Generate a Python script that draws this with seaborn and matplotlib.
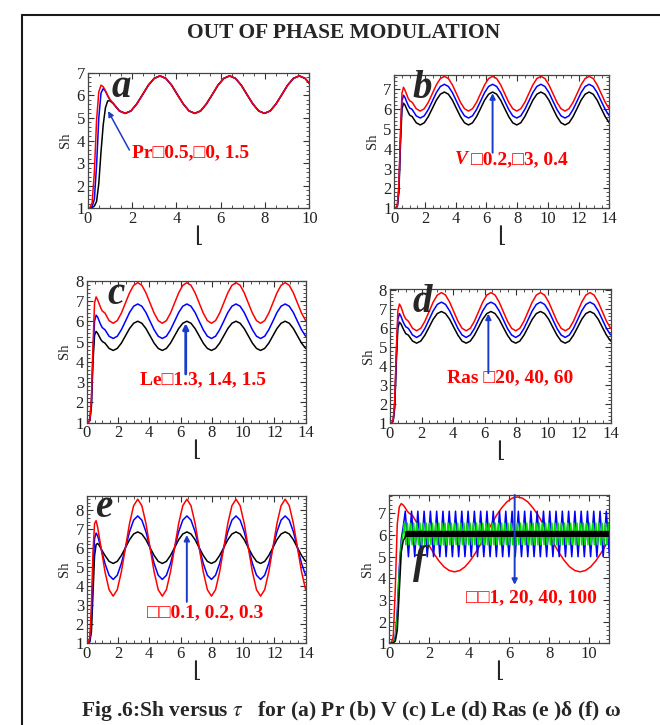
import numpy as np
import seaborn as sns
import matplotlib.pyplot as plt
from matplotlib.lines import Line2D
from matplotlib.ticker import MultipleLocator, AutoMinorLocator

# time samples: fine through the start-up, then 12 per cycle of the modulation
tau_start = [0.0, 0.1, 0.2, 0.3, 0.4, 0.5, 0.6, 0.7, 0.8, 0.9, 1.0]
tau_14 = np.concatenate([tau_start, 0.12 + np.arange(4, 54) * np.pi / 12])
tau_10 = tau_14[:46]
tau_11 = np.concatenate([tau_start, 0.12 + np.arange(4, 43) * np.pi / 12])

# steady part of the black curve (same in a, b, d, e)
steady_black = [5.62, 5.31, 5.20, 5.31, 5.62, 6.03, 6.45, 6.75, 6.86, 6.75, 6.45, 6.03,
                5.62, 5.31, 5.20, 5.31, 5.62, 6.03, 6.45, 6.75, 6.86, 6.75, 6.45, 6.03,
                5.62, 5.31, 5.20, 5.31, 5.62, 6.03, 6.45, 6.75, 6.86, 6.75, 6.45, 6.03,
                5.62, 5.31, 5.20, 5.31, 5.62, 6.03, 6.45, 6.75, 6.86, 6.75, 6.45, 6.03,
                5.62, 5.31]

# (a) Pr = 0.5, 1.0, 1.5
sh_a_red = [1.0, 1.02, 1.25, 2.6, 4.9, 6.15, 6.45, 6.38, 6.2, 6.0, 5.82] + steady_black[:35]
sh_a_blue = [1.0, 1.01, 1.08, 1.4, 2.9, 5.0, 6.1, 6.3, 6.18, 5.98, 5.8] + steady_black[:35]
sh_a_black = [1.0, 1.0, 1.03, 1.1, 1.3, 2.1, 3.5, 4.7, 5.45, 5.75, 5.76] + steady_black[:35]

# (b) V = 0.2, 0.3, 0.4
sh_b_black = [1.0, 1.01, 1.1, 1.8, 4.2, 6.0, 6.3, 6.2, 6.02, 5.85, 5.7] + steady_black
sh_b_blue = [1.0, 1.02, 1.12, 2.0, 4.5, 6.4, 6.7, 6.58, 6.38, 6.2, 6.06] + [
    5.98, 5.66, 5.55, 5.66, 5.98, 6.40, 6.83, 7.14, 7.25, 7.14, 6.83, 6.40,
    5.98, 5.66, 5.55, 5.66, 5.98, 6.40, 6.83, 7.14, 7.25, 7.14, 6.83, 6.40,
    5.98, 5.66, 5.55, 5.66, 5.98, 6.40, 6.83, 7.14, 7.25, 7.14, 6.83, 6.40,
    5.98, 5.66, 5.55, 5.66, 5.98, 6.40, 6.83, 7.14, 7.25, 7.14, 6.83, 6.40,
    5.98, 5.66]
sh_b_red = [1.0, 1.02, 1.15, 2.2, 4.8, 6.8, 7.1, 6.95, 6.75, 6.55, 6.42] + [
    6.34, 6.02, 5.90, 6.02, 6.34, 6.78, 7.22, 7.54, 7.65, 7.54, 7.22, 6.78,
    6.34, 6.02, 5.90, 6.02, 6.34, 6.78, 7.22, 7.54, 7.65, 7.54, 7.22, 6.78,
    6.34, 6.02, 5.90, 6.02, 6.34, 6.78, 7.22, 7.54, 7.65, 7.54, 7.22, 6.78,
    6.34, 6.02, 5.90, 6.02, 6.34, 6.78, 7.22, 7.54, 7.65, 7.54, 7.22, 6.78,
    6.34, 6.02]

# (c) Le = 1.3, 1.4, 1.5
sh_c_black = [1.0, 1.01, 1.1, 1.8, 4.0, 5.3, 5.5, 5.4, 5.25, 5.1, 5.0] + [
    4.92, 4.66, 4.56, 4.66, 4.92, 5.28, 5.64, 5.90, 6.00, 5.90, 5.64, 5.28,
    4.92, 4.66, 4.56, 4.66, 4.92, 5.28, 5.64, 5.90, 6.00, 5.90, 5.64, 5.28,
    4.92, 4.66, 4.56, 4.66, 4.92, 5.28, 5.64, 5.90, 6.00, 5.90, 5.64, 5.28,
    4.92, 4.66, 4.56, 4.66, 4.92, 5.28, 5.64, 5.90, 6.00, 5.90, 5.64, 5.28,
    4.92, 4.66]
sh_c_blue = [1.0, 1.02, 1.12, 2.0, 4.4, 6.0, 6.3, 6.2, 6.0, 5.82, 5.68] + [
    5.58, 5.26, 5.15, 5.26, 5.58, 6.00, 6.43, 6.74, 6.85, 6.74, 6.43, 6.00,
    5.58, 5.26, 5.15, 5.26, 5.58, 6.00, 6.43, 6.74, 6.85, 6.74, 6.43, 6.00,
    5.58, 5.26, 5.15, 5.26, 5.58, 6.00, 6.43, 6.74, 6.85, 6.74, 6.43, 6.00,
    5.58, 5.26, 5.15, 5.26, 5.58, 6.00, 6.43, 6.74, 6.85, 6.74, 6.43, 6.00,
    5.58, 5.26]
sh_c_red = [1.0, 1.02, 1.15, 2.2, 4.8, 6.9, 7.2, 7.05, 6.85, 6.65, 6.5] + [
    6.40, 6.03, 5.90, 6.03, 6.40, 6.90, 7.40, 7.77, 7.90, 7.77, 7.40, 6.90,
    6.40, 6.03, 5.90, 6.03, 6.40, 6.90, 7.40, 7.77, 7.90, 7.77, 7.40, 6.90,
    6.40, 6.03, 5.90, 6.03, 6.40, 6.90, 7.40, 7.77, 7.90, 7.77, 7.40, 6.90,
    6.40, 6.03, 5.90, 6.03, 6.40, 6.90, 7.40, 7.77, 7.90, 7.77, 7.40, 6.90,
    6.40, 6.03]

# (d) Ras = 20, 40, 60
sh_d_black = sh_b_black
sh_d_blue = [1.0, 1.02, 1.12, 2.0, 4.5, 6.45, 6.75, 6.6, 6.38, 6.2, 6.06] + [
    5.97, 5.63, 5.50, 5.63, 5.97, 6.43, 6.89, 7.23, 7.35, 7.23, 6.89, 6.43,
    5.97, 5.63, 5.50, 5.63, 5.97, 6.43, 6.89, 7.23, 7.35, 7.23, 6.89, 6.43,
    5.97, 5.63, 5.50, 5.63, 5.97, 6.43, 6.89, 7.23, 7.35, 7.23, 6.89, 6.43,
    5.97, 5.63, 5.50, 5.63, 5.97, 6.43, 6.89, 7.23, 7.35, 7.23, 6.89, 6.43,
    5.97, 5.63]
sh_d_red = [1.0, 1.02, 1.15, 2.2, 4.8, 6.9, 7.25, 7.1, 6.85, 6.62, 6.47] + [
    6.35, 5.98, 5.85, 5.98, 6.35, 6.85, 7.35, 7.72, 7.85, 7.72, 7.35, 6.85,
    6.35, 5.98, 5.85, 5.98, 6.35, 6.85, 7.35, 7.72, 7.85, 7.72, 7.35, 6.85,
    6.35, 5.98, 5.85, 5.98, 6.35, 6.85, 7.35, 7.72, 7.85, 7.72, 7.35, 6.85,
    6.35, 5.98, 5.85, 5.98, 6.35, 6.85, 7.35, 7.72, 7.85, 7.72, 7.35, 6.85,
    6.35, 5.98]

# (e) delta = 0.1, 0.2, 0.3
sh_e_black = [1.0, 1.01, 1.08, 1.6, 3.6, 5.6, 6.2, 6.25, 6.15, 6.0, 5.85] + steady_black
sh_e_blue = [1.0, 1.02, 1.15, 2.3, 4.8, 6.5, 6.8, 6.65, 6.35, 6.05, 5.72] + [
    5.20, 4.58, 4.36, 4.58, 5.20, 6.03, 6.87, 7.48, 7.70, 7.48, 6.87, 6.03,
    5.20, 4.58, 4.36, 4.58, 5.20, 6.03, 6.87, 7.48, 7.70, 7.48, 6.87, 6.03,
    5.20, 4.58, 4.36, 4.58, 5.20, 6.03, 6.87, 7.48, 7.70, 7.48, 6.87, 6.03,
    5.20, 4.58, 4.36, 4.58, 5.20, 6.03, 6.87, 7.48, 7.70, 7.48, 6.87, 6.03,
    5.20, 4.58]
sh_e_red = [1.0, 1.03, 1.3, 3.0, 5.8, 7.3, 7.45, 7.1, 6.6, 6.1, 5.6] + [
    4.76, 3.82, 3.48, 3.82, 4.76, 6.03, 7.31, 8.24, 8.58, 8.24, 7.31, 6.03,
    4.76, 3.82, 3.48, 3.82, 4.76, 6.03, 7.31, 8.24, 8.58, 8.24, 7.31, 6.03,
    4.76, 3.82, 3.48, 3.82, 4.76, 6.03, 7.31, 8.24, 8.58, 8.24, 7.31, 6.03,
    4.76, 3.82, 3.48, 3.82, 4.76, 6.03, 7.31, 8.24, 8.58, 8.24, 7.31, 6.03,
    4.76, 3.82]

# (f) omega = 1, 20, 40, 100
sh_f_red = [1.0, 1.02, 1.3, 3.5, 6.5, 7.3, 7.45, 7.38, 7.25, 7.1, 7.0] + [
    6.90, 6.48, 6.03, 5.58, 5.17, 4.81, 4.53, 4.36, 4.30, 4.36, 4.53, 4.81, 5.17,
    5.58, 6.03, 6.48, 6.90, 7.25, 7.53, 7.70, 7.76, 7.70, 7.53, 7.25, 6.90, 6.48,
    6.03, 5.58, 5.17, 4.81, 4.53, 4.36, 4.30, 4.36, 4.53, 4.81, 5.17, 5.58, 6.03]
# fast modes: start-up, then peak/trough levels at every half cycle
tau_f_rise = [0.0, 0.1, 0.2, 0.3, 0.4, 0.5, 0.6, 0.7]
tau_f_blue = np.concatenate([tau_f_rise, 0.8 + np.arange(66) * np.pi / 20])
sh_f_blue = [1.0, 1.01, 1.05, 1.3, 2.5, 4.5, 5.8, 6.4] + [7.1, 5.0] * 33
tau_f_green = np.concatenate([tau_f_rise, 0.75 + np.arange(132) * np.pi / 40])
sh_f_green = [1.0, 1.0, 1.03, 1.2, 2.2, 4.2, 5.6, 6.1] + [6.55, 5.55] * 66
tau_f_black = np.concatenate([tau_f_rise, [0.8], 0.85 + np.arange(650) * np.pi / 200])
sh_f_black = [1.0, 1.0, 1.02, 1.1, 1.6, 3.4, 5.2, 5.75, 5.9] + [6.16, 5.95] * 325

RED, BLUE, BLACK, GREEN = "#ff0000", "#0000ff", "#000000", "#00e000"
ARROW = "#1a3cc8"
TXT_FONT = ["Liberation Serif", "DejaVu Serif", "DejaVu Sans"]

sns.set_theme(style="ticks")
plt.rcParams["font.family"] = TXT_FONT
plt.rcParams["mathtext.fontset"] = "stix"

fig = plt.figure(figsize=(6.6, 7.25), dpi=100)


def draw(ax, curves, xmax, ymax):
    for tau, sh, color in curves:
        sns.lineplot(x=tau, y=sh, ax=ax, color=color, lw=1.1,
                     estimator=None, sort=False, legend=False)
    ax.set_xlim(0, xmax)
    ax.set_ylim(1, ymax)
    ax.xaxis.set_major_locator(MultipleLocator(2))
    ax.xaxis.set_minor_locator(AutoMinorLocator(4))
    ax.yaxis.set_major_locator(MultipleLocator(1))
    ax.yaxis.set_minor_locator(AutoMinorLocator(5))
    ax.tick_params(which="both", direction="in", top=True, right=True,
                   color="#333333", labelcolor="#222222", labelsize=12, pad=2)
    ax.tick_params(which="major", length=4, width=0.8)
    ax.tick_params(which="minor", length=2, width=0.6)
    for s in ax.spines.values():
        s.set_color("#444444")
        s.set_linewidth(0.9)
    ax.set_ylabel("Sh", fontsize=10.5, labelpad=3)
    ax.set_xlabel("\u230a", fontsize=16, labelpad=0)


def letter(ax, x, y, s):
    ax.text(x, y, s, fontsize=28, fontweight="bold", fontstyle="italic",
            ha="center", va="center", zorder=10)


def note(ax, x, y, s):
    ax.text(x, y, s, fontsize=14, fontweight="bold", color=RED,
            ha="left", va="center", zorder=10)


def arrow(ax, start, end, lw=1.4):
    ax.annotate("", xy=end, xytext=start,
                arrowprops=dict(arrowstyle="-|>", color=ARROW, lw=lw,
                                mutation_scale=8, shrinkA=0, shrinkB=0),
                zorder=11)


# (a)
ax = fig.add_axes([0.1329, 0.7127, 0.3358, 0.1870])
draw(ax, [(tau_10, sh_a_black, BLACK), (tau_10, sh_a_blue, BLUE), (tau_10, sh_a_red, RED)], 10, 7)
letter(ax, 1.53, 6.35, "a")
arrow(ax, (1.88, 3.58), (0.92, 5.3), lw=1.1)
note(ax, 1.98, 3.46, "Pr\u25a10.5,\u25a10, 1.5")

# (b)
ax = fig.add_axes([0.5974, 0.7127, 0.3258, 0.1839])
draw(ax, [(tau_14, sh_b_black, BLACK), (tau_14, sh_b_blue, BLUE), (tau_14, sh_b_red, RED)], 14, 7.72)
letter(ax, 1.85, 7.05, "b")
arrow(ax, (6.4, 3.8), (6.4, 6.8))
ax.text(3.95, 3.44, "V", fontsize=14, fontweight="bold", fontstyle="italic",
        color=RED, ha="left", va="center", zorder=10)
note(ax, 5.0, 3.44, "\u25a10.2,\u25a13, 0.4")

# (c)
ax = fig.add_axes([0.1314, 0.4170, 0.3318, 0.1959])
draw(ax, [(tau_14, sh_c_black, BLACK), (tau_14, sh_c_blue, BLUE), (tau_14, sh_c_red, RED)], 14, 8)
letter(ax, 1.88, 7.3, "c")
arrow(ax, (6.33, 3.4), (6.33, 5.9), lw=2)
note(ax, 3.41, 3.1, "Le\u25a11.3, 1.4, 1.5")

# (d)
ax = fig.add_axes([0.5909, 0.4161, 0.3344, 0.1848])
draw(ax, [(tau_14, sh_d_black, BLACK), (tau_14, sh_d_blue, BLUE), (tau_14, sh_d_red, RED)], 14, 8.02)
letter(ax, 2.08, 7.35, "d")
arrow(ax, (6.24, 3.63), (6.24, 6.75))
note(ax, 3.6, 3.37, "Ras \u25a120, 40, 60")

# (e)
ax = fig.add_axes([0.1314, 0.1127, 0.3318, 0.2032])
draw(ax, [(tau_14, sh_e_black, BLACK), (tau_14, sh_e_blue, BLUE), (tau_14, sh_e_red, RED)], 14, 8.75)
letter(ax, 1.07, 8.15, "e")
arrow(ax, (6.4, 3.18), (6.4, 6.7))
note(ax, 3.84, 2.6, "\u25a1\u25a10.1, 0.2, 0.3")

# (f)
ax = fig.add_axes([0.5898, 0.1127, 0.3333, 0.2046])
draw(ax, [(tau_11, sh_f_red, RED), (tau_f_blue, sh_f_blue, BLUE),
          (tau_f_green, sh_f_green, GREEN), (tau_f_black, sh_f_black, BLACK)], 11, 7.85)
letter(ax, 1.52, 4.7, "f")
arrow(ax, (6.27, 7.85), (6.27, 3.7))
note(ax, 3.84, 3.12, "\u25a1\u25a11, 20, 40, 100")

fig.text(0.521, 0.954, "OUT OF PHASE MODULATION", fontsize=15.5, fontweight="bold",
         ha="center", va="center")
fig.text(0.532, 0.019, "Fig .6:Sh versus $\\tau$   for (a) Pr (b) V (c) Le (d) Ras (e )\u03b4 (f) \u03c9",
         fontsize=15.5, fontweight="bold", ha="center", va="center")

# page frame around the figure
fig.add_artist(Line2D([0.0333, 0.0333], [0.9793, 0.0], transform=fig.transFigure, color="k", lw=1.5))
fig.add_artist(Line2D([0.0333, 1.0], [0.9793, 0.9793], transform=fig.transFigure, color="k", lw=1.5))

fig.savefig("out.png", dpi=100)
